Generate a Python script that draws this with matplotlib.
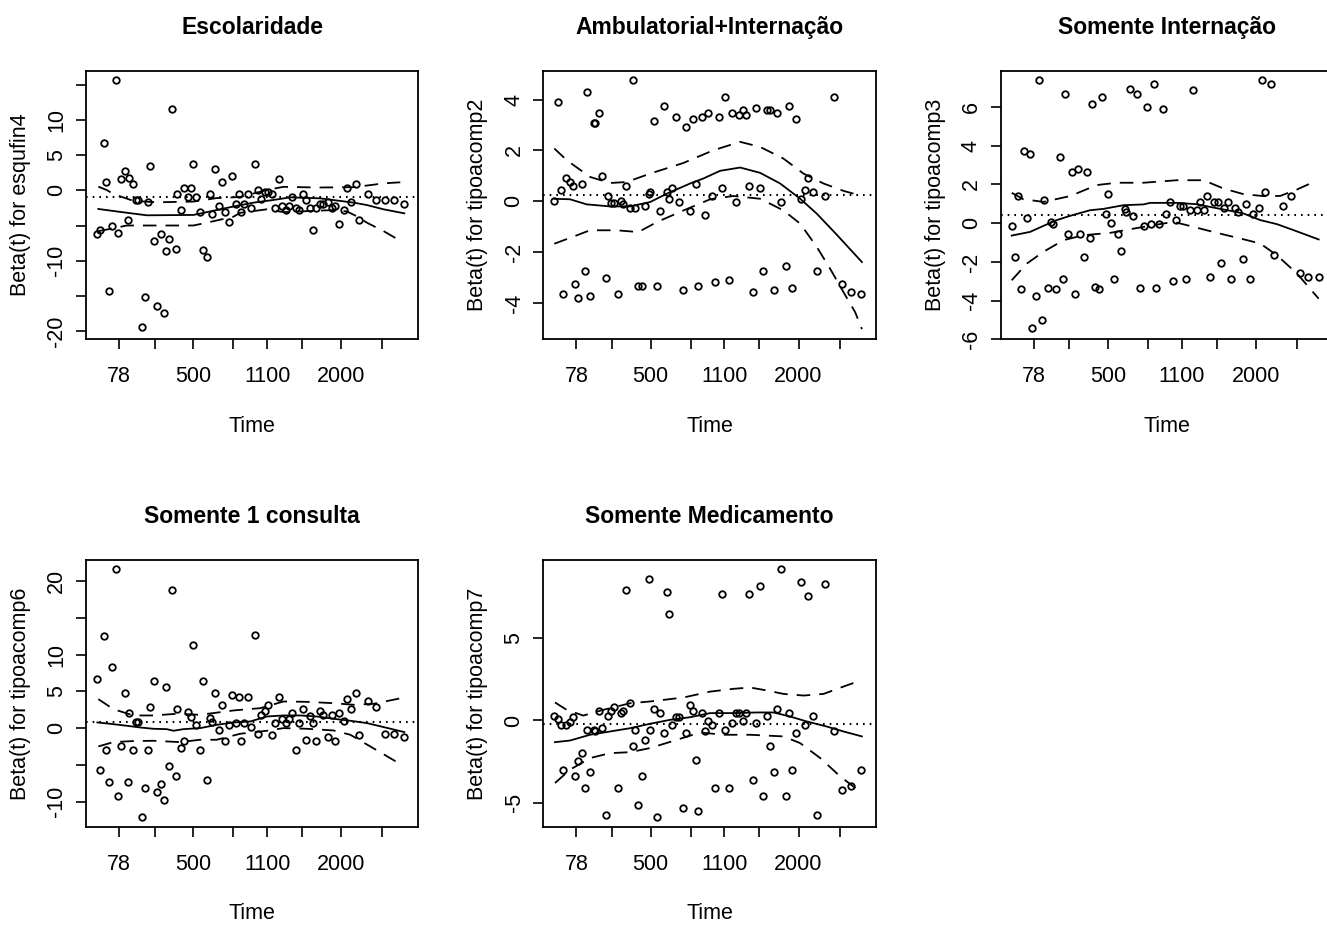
import matplotlib
matplotlib.use("Agg")
import matplotlib.pyplot as plt
import numpy as np

plt.rcParams['font.family'] = ['Liberation Sans Narrow', 'Liberation Sans', 'DejaVu Sans']

# transformed (km) event-time positions, shared by all panels
time_x = [0.1, 1.1, 2.1, 2.8, 3.7, 4.7, 5.7, 6.3, 7.3, 8.4,
          9.3, 9.8, 10.9, 11.9, 12.4, 13.5, 14.5, 15.5, 16.1, 17.1,
          18.1, 19.2, 20.1, 20.7, 21.7, 22.7, 23.7, 24.2, 25.2, 26.3,
          27.3, 28.4, 28.9, 29.9, 30.9, 31.9, 33.0, 34.0, 34.5, 35.5,
          36.6, 37.6, 38.6, 39.7, 40.7, 41.7, 42.7, 43.3, 44.3, 45.3,
          46.3, 47.4, 48.4, 49.4, 50.4, 51.4, 52.4, 53.5, 54.5, 55.6,
          56.6, 57.6, 58.6, 59.6, 60.7, 61.8, 62.8, 63.8, 64.8, 65.8,
          66.9, 67.9, 69.4, 70.4, 71.4, 72.5, 74.1, 75.1, 76.1, 77.7,
          78.7, 81.3, 83.8, 86.4, 89.0, 92.1]
time_ticks = [6.7, 17.4, 29.0, 41.0, 51.1, 61.6, 73.3, 85.6]
time_labels = ['78', '', '500', '', '1100', '', '2000', '']

# scaled Schoenfeld residuals
res_esq4 = [-6.2, -5.6, 6.7, 1.2, -14.3, -5.0, 15.7, -6.0, 1.6, 2.7,
            -4.2, 1.8, 0.9, -1.4, -1.4, -19.5, -15.2, -1.7, 3.5, -7.2,
            -16.4, -6.2, -17.5, -8.6, -6.9, 11.6, -8.3, -0.5, -2.8, 0.4,
            -1.0, 0.4, 3.8, -1.0, -3.1, -8.5, -9.5, -0.5, -3.4, 3.0,
            -2.2, 1.2, -3.1, -4.5, 2.1, -1.9, -0.5, -3.1, -1.9, -0.5,
            -2.5, 3.8, 0.1, -1.3, -0.2, -0.2, -0.5, -2.5, 1.6, -2.2,
            -2.8, -2.2, -0.9, -2.5, -2.8, -0.5, -1.4, -2.5, -5.7, -2.5,
            -1.9, -1.9, -1.7, -2.5, -2.2, -4.8, -2.8, 0.4, -1.6, 0.9,
            -4.2, -0.5, -1.4, -1.4, -1.4, -1.9]
res_tc2 = [0.03, 3.9, 0.46, -3.66, 0.93, 0.76, 0.6, -3.24, -3.79, 0.68,
           -2.76, 4.29, -3.72, 3.08, 3.08, 3.49, 1.0, -3.0, 0.2, -0.07,
           -0.07, -3.66, 0.03, -0.1, 0.6, -0.28, 4.76, -0.28, -3.32, -3.32,
           -0.2, 0.29, 0.37, 3.17, -3.32, -0.37, 3.74, 0.37, 0.1, 0.54,
           3.33, -0.04, -3.49, 2.92, -0.37, 3.25, 0.68, -3.32, 3.33, -0.53,
           3.49, 0.2, -3.16, 3.33, 0.53, 4.12, -3.08, 3.49, -0.04, 3.41,
           3.58, 3.41, 0.6, -3.55, 3.66, 0.54, -2.76, 3.58, 3.58, -3.49,
           3.49, -0.04, -2.53, 3.74, -3.41, 3.25, 0.1, 0.46, 0.93, 0.37,
           -2.76, 0.21, 4.12, -3.24, -3.55, -3.66]
res_tc3 = [-0.16, -1.76, 1.41, -3.41, 3.71, 0.26, 3.6, -5.41, -3.74, 7.4,
           -4.98, 1.21, -3.33, 0.07, -0.05, -3.41, 3.41, -2.9, 6.66, -0.57,
           2.66, -3.66, 2.78, -0.57, -1.76, 2.67, -0.79, 6.14, -3.29, -3.41,
           6.53, 0.47, 1.5, 0.03, -2.9, -0.57, -1.45, 0.71, 0.57, 6.95,
           0.38, 6.66, -3.33, -0.16, 6.02, -0.05, 7.17, -3.33, -0.05, 5.91,
           0.47, 1.1, -3.0, 0.16, 0.88, 0.88, -2.9, 0.67, 6.86, 0.67,
           1.1, 0.67, 1.41, -2.79, 1.1, 1.1, -2.05, 0.78, 1.1, -2.9,
           0.78, 0.57, -1.86, 0.98, -2.9, 0.47, 0.78, 7.4, 1.62, 7.17,
           -1.64, 0.88, 1.41, -2.57, -2.79, -2.79]
res_tc6 = [6.7, -5.66, 12.49, -2.94, -7.33, 8.33, 21.58, -9.23, -2.4, 4.8,
           -7.33, 2.04, -2.94, 0.77, 0.77, -12.04, -8.14, -2.94, 2.9, 6.43,
           -8.73, -7.6, -9.82, 5.61, -5.11, 18.78, -6.52, 2.58, -2.67, -1.81,
           2.13, 1.49, 11.36, 0.41, -2.94, 6.43, -7.06, 1.31, 0.77, 4.75,
           -0.23, 3.17, -1.81, 0.41, 4.52, 0.68, 4.21, -1.81, 0.68, 4.21,
           0.14, 12.71, -0.77, 1.81, 2.35, 3.17, -1.0, 0.68, 4.21, 1.18,
           0.68, 1.18, 2.08, -2.94, 0.68, 2.58, -1.58, 1.58, 0.68, -1.81,
           2.35, 1.81, -1.27, 1.81, -1.81, 2.08, 0.9, 3.94, 2.58, 4.75,
           -1.0, 3.67, 2.9, -0.77, -0.77, -1.27]
res_tc7 = [0.3, 0.08, -0.28, -3.0, -0.28, -0.12, 0.2, -3.39, -2.49, -2.01,
           -4.12, -0.55, -3.12, -0.55, -0.67, 0.57, -0.43, -5.74, 0.3, 0.57,
           0.83, -4.12, 0.45, 0.57, 7.97, 1.05, -1.54, -0.55, -5.13, -3.39,
           -1.18, 8.6, -0.55, 0.69, -5.86, 0.45, -0.79, 7.85, 6.49, -0.28,
           0.2, 0.2, -5.35, -0.79, 0.93, 0.57, -2.39, -5.5, 0.45, -0.67,
           -0.04, -0.28, -4.12, 0.45, 7.73, -0.55, -4.12, -0.16, 0.45, 0.45,
           -0.04, 0.45, 7.73, -3.63, -0.16, 8.21, -4.62, 0.3, -1.54, -3.12,
           0.69, 9.21, -4.62, 0.45, -3.0, -0.79, 8.46, -0.28, 7.61, 0.3,
           -5.74, 8.34, -0.67, -4.26, -4.02, -3.0]

# smoothed beta(t) and +/- 2 se bands
fit1_x = [0.5, 6, 15, 29, 35, 41, 47, 53, 58, 67, 77, 81, 86, 92.2]
fit1_y = [-2.65, -3.0, -3.55, -3.5, -2.9, -2.3, -1.75, -1.37, -1.0, -1.14, -1.75, -2.09, -2.7, -3.27]
up1_x = [0.5, 3, 5, 11, 18, 29, 36, 43, 51, 56, 66, 77, 83, 86, 91]
up1_y = [0.52, 0.05, -0.52, -1.5, -1.7, -1.6, -1.1, -0.95, 0.05, 0.5, 0.4, 0.45, 0.8, 1.0, 1.14]
lo1_x = [0.5, 5, 9, 20, 29, 33, 41, 43, 51, 56, 61, 71, 75, 78, 81, 86, 90]
lo1_y = [-5.8, -5.4, -5.0, -5.0, -5.0, -4.6, -3.75, -3.2, -2.7, -3.1, -3.0, -2.8, -3.0, -3.7, -4.6, -5.8, -6.9]

fit2_x = [0.1, 4.8, 9.8, 16.8, 22.8, 28.8, 33.8, 40.8, 44.8, 49.8, 55.8, 61.8, 67.8, 73.8, 78.8, 84.8, 92.3]
fit2_y = [0.1, 0.08, -0.12, -0.2, -0.2, -0.03, 0.3, 0.7, 0.9, 1.2, 1.33, 1.12, 0.7, 0.1, -0.49, -1.32, -2.39]
up2_x = [0.1, 3.8, 10.8, 16.8, 21.8, 28.8, 38.8, 47.8, 55.8, 61.8, 68.8, 74.8, 80.8, 86.8, 92.3]
up2_y = [2.08, 1.62, 0.96, 0.72, 0.76, 1.09, 1.51, 2.01, 2.34, 2.14, 1.68, 1.09, 0.7, 0.41, 0.21]
lo2_x = [0.1, 6.8, 10.8, 18.8, 25.3, 30.8, 38.8, 46.8, 53.8, 61.8, 68.8, 73.8, 78.8, 82.8, 86.8, 90.3, 92.3]
lo2_y = [-1.67, -1.34, -1.14, -1.14, -1.21, -0.82, -0.36, 0.08, 0.21, 0.1, -0.36, -0.88, -1.8, -2.66, -3.58, -4.37, -5.03]

fit3_x = [0.1, 5.6, 9.6, 13.6, 17.6, 23.6, 27.6, 33.6, 39.6, 41.6, 49.6, 55.6, 59.6, 65.6, 69.6, 74.6, 79.6, 84.6, 92.1]
fit3_y = [-0.64, -0.45, -0.14, 0.16, 0.38, 0.67, 0.74, 0.93, 0.97, 1.05, 1.05, 0.98, 0.84, 0.64, 0.5, 0.16, -0.05, -0.36, -0.84]
up3_x = [0.1, 3.6, 9.6, 17.6, 25.6, 31.6, 39.6, 49.6, 57.6, 63.6, 69.6, 75.6, 80.6, 85.6, 91.1]
up3_y = [1.57, 1.24, 1.1, 1.4, 1.97, 2.09, 2.09, 2.22, 2.22, 1.79, 1.5, 1.4, 1.41, 1.74, 2.17]
lo3_x = [0.1, 4.6, 9.6, 15.6, 21.6, 29.6, 39.6, 48.6, 54.6, 61.6, 68.6, 74.6, 79.6, 85.6, 92.1]
lo3_y = [-2.95, -2.09, -1.48, -0.88, -0.62, -0.5, -0.19, 0.07, -0.19, -0.5, -0.79, -1.05, -1.66, -2.6, -3.9]

fit6_x = [0.2, 4, 9, 13, 17, 21, 23, 26, 31, 36, 41, 46, 51, 56, 61, 66, 71, 76, 81, 86, 92.2]
fit6_y = [0.77, 0.59, 0.32, 0.09, -0.09, -0.14, -0.36, -0.14, 0.0, 0.45, 0.77, 0.9, 1.58, 1.72, 1.72, 1.58, 1.27, 1.0, 0.68, 0.14, -0.54]
up6_x = [0.5, 5, 11, 17, 24, 31, 41, 49, 56, 63, 71, 77, 83, 92.2]
up6_y = [3.94, 2.58, 1.72, 1.72, 1.95, 1.81, 2.4, 2.71, 3.62, 3.57, 3.39, 3.17, 3.3, 4.16]
lo6_x = [0.5, 5, 11, 17, 25, 31, 36, 43, 51, 56, 63, 71, 76, 82, 90]
lo6_y = [-2.49, -1.9, -1.76, -1.72, -1.9, -1.58, -1.58, -0.77, -0.36, 0.0, -0.09, -0.32, -0.9, -2.49, -4.62]

fit7_x = [0.3, 4.8, 10.8, 16.8, 22.8, 28.8, 34.8, 40.8, 46.8, 53.8, 60.8, 65.8, 70.8, 75.8, 81.8, 86.8, 92.3]
fit7_y = [-1.32, -1.22, -0.87, -0.67, -0.47, -0.2, 0.04, 0.2, 0.45, 0.45, 0.49, 0.49, 0.24, -0.06, -0.37, -0.67, -0.97]
up7_x = [0.3, 3.8, 8.8, 14.8, 22.8, 28.8, 38.8, 46.8, 53.8, 58.8, 63.8, 68.8, 74.8, 80.8, 86.8, 92.3]
up7_y = [1.1, 0.65, 0.3, 0.65, 1.05, 1.16, 1.4, 1.76, 1.93, 2.01, 1.83, 1.62, 1.52, 1.62, 2.07, 2.47]
lo7_x = [0.3, 4.8, 10.8, 16.8, 22.8, 28.8, 36.8, 43.8, 50.8, 58.8, 68.8, 73.8, 79.8, 85.8, 92.3]
lo7_y = [-3.81, -3.0, -2.29, -1.99, -1.93, -1.68, -1.18, -0.73, -0.87, -0.87, -0.97, -1.38, -2.29, -3.41, -4.42]

coefs = [-0.9, 0.25, 0.43, 0.81, -0.22]
titles = ['Escolaridade', 'Ambulatorial+Internação', 'Somente Internação',
          'Somente 1 consulta', 'Somente Medicamento']
ylabels = ['Beta(t) for esqufin4', 'Beta(t) for tipoacomp2', 'Beta(t) for tipoacomp3',
           'Beta(t) for tipoacomp6', 'Beta(t) for tipoacomp7']
residuals = [res_esq4, res_tc2, res_tc3, res_tc6, res_tc7]
fits = [(fit1_x, fit1_y, up1_x, up1_y, lo1_x, lo1_y),
        (fit2_x, fit2_y, up2_x, up2_y, lo2_x, lo2_y),
        (fit3_x, fit3_y, up3_x, up3_y, lo3_x, lo3_y),
        (fit6_x, fit6_y, up6_x, up6_y, lo6_x, lo6_y),
        (fit7_x, fit7_y, up7_x, up7_y, lo7_x, lo7_y)]
yticks = [[-20, -15, -10, -5, 0, 5, 10, 15], [-4, -2, 0, 2, 4], [-6, -4, -2, 0, 2, 4, 6],
          [-10, -5, 0, 5, 10, 15, 20], [-5, 0, 5]]
yticklabels = [['-20', '', '-10', '', '0', '5', '10', ''], ['-4', '-2', '0', '2', '4'],
               ['-6', '-4', '-2', '0', '2', '4', '6'],
               ['-10', '', '0', '5', '10', '', '20'], ['-5', '0', '5']]
ylims = [(-21.18, 17.01), (-5.43, 5.14), (-5.98, 7.88), (-13.44, 22.85), (-6.49, 9.78)]

W, H = 1327, 927
fig = plt.figure(figsize=(W / 100, H / 100), dpi=100)
lefts = [86, 543.3, 1000.7]
boxw = 332.3
rows = [(70.7, 339.3), (560.0, 827.0)]
positions = [(0, 0), (0, 1), (0, 2), (1, 0), (1, 1)]

for i, (r, c) in enumerate(positions):
    top, bot = rows[r]
    ax = fig.add_axes([lefts[c] / W, 1 - bot / H, boxw / W, (bot - top) / H])
    fx, fy, ux, uy, lx, ly = fits[i]
    ax.plot(time_x, residuals[i], 'o', ms=4.7, mfc='none', mec='black', mew=1.3)
    ax.plot(fx, fy, '-', color='black', lw=1.3)
    ax.plot(ux, uy, color='black', lw=1.3, linestyle=(0, (7.5, 5)))
    ax.plot(lx, ly, color='black', lw=1.3, linestyle=(0, (7.5, 5)))
    ax.axhline(coefs[i], color='black', lw=1.5, linestyle=(0, (0.8, 2.4)))
    ax.set_xlim(-3.2, 96.4)
    ax.set_ylim(*ylims[i])
    ax.set_xticks(time_ticks)
    ax.set_xticklabels(time_labels)
    ax.set_yticks(yticks[i])
    ax.set_yticklabels(yticklabels[i], rotation=90, va='center')
    ax.tick_params(axis='both', direction='out', length=7.5, width=1.2,
                   labelsize=15.5, color='black')
    ax.tick_params(axis='x', pad=12)
    ax.tick_params(axis='y', pad=6)
    for s in ax.spines.values():
        s.set_linewidth(1.3)
    ax.set_xlabel('Time', fontsize=15.5)
    ax.xaxis.set_label_coords(0.5, -0.285)
    ax.set_ylabel(ylabels[i], fontsize=15.5)
    ax.yaxis.set_label_coords(-0.165, 0.5)
    ax.set_title(titles[i], fontsize=16.5, fontweight='bold', pad=26.5,
                 family=['Liberation Sans', 'DejaVu Sans'])

fig.savefig('out.png', dpi=100)
